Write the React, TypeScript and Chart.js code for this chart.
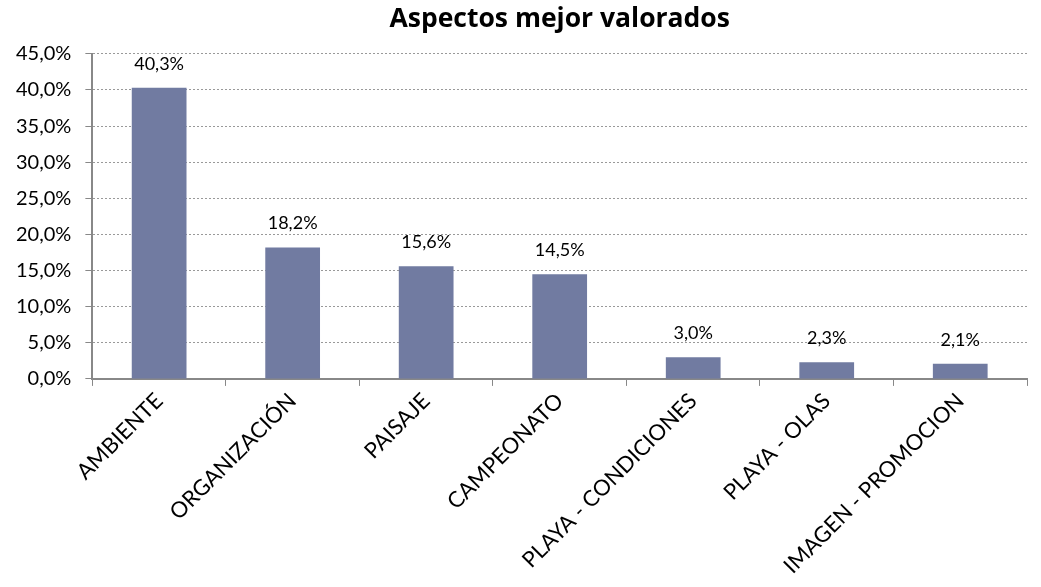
import React, { useEffect, useRef } from "react";
import { Chart, registerables } from "chart.js";

Chart.register(...registerables);

const categories = [
  "AMBIENTE",
  "ORGANIZACIÓN",
  "PAISAJE",
  "CAMPEONATO",
  "PLAYA - CONDICIONES",
  "PLAYA - OLAS",
  "IMAGEN - PROMOCION",
];
const values = [40.3, 18.2, 15.6, 14.5, 3.0, 2.3, 2.1];
const yMin = 0;
const yMax = 45;
const yStep = 5;
const title = "Aspectos mejor valorados";

const fmt = (v: number) => v.toFixed(1).replace(".", ",") + "%";

const dataLabels = {
  id: "dataLabels",
  afterDatasetsDraw(chart: any) {
    const ctx = chart.ctx;
    const meta = chart.getDatasetMeta(0);
    ctx.save();
    ctx.font = "18px Lato";
    ctx.fillStyle = "#000";
    ctx.textAlign = "center";
    ctx.textBaseline = "bottom";
    meta.data.forEach((bar: any, i: number) => {
      ctx.fillText(fmt(values[i]), bar.x, bar.y - 15);
    });
    ctx.restore();
  },
};

export default function App() {
  const ref = useRef<HTMLCanvasElement>(null);
  useEffect(() => {
    if (!ref.current) return;
    const chart = new Chart(ref.current, {
      type: "bar",
      data: {
        labels: categories,
        datasets: [
          {
            data: values,
            backgroundColor: "#717BA1",
            barPercentage: 0.41,
            categoryPercentage: 1,
          },
        ],
      },
      options: {
        animation: false,
        responsive: false,
        maintainAspectRatio: false,
        layout: { padding: { left: 2, right: 14, top: 0, bottom: 6 } },
        plugins: {
          legend: { display: false },
          tooltip: { enabled: false },
          title: {
            display: true,
            text: title,
            color: "#000",
            fullSize: false,
            font: { family: "Open Sans", size: 26.5, weight: "bold" },
            padding: { top: 4, bottom: 18 },
          },
        },
        scales: {
          x: {
            grid: {
              display: true,
              drawOnChartArea: false,
              offset: true,
              tickLength: 7,
              color: "#888",
            },
            border: { display: true, color: "#888", width: 2 },
            ticks: {
              color: "#000",
              font: { family: "Lato", size: 22 },
              minRotation: 45,
              maxRotation: 45,
              padding: 2,
              autoSkip: false,
            },
          },
          y: {
            min: yMin,
            max: yMax,
            grid: {
              color: "#999",
              tickColor: "#888",
              tickLength: 7,
              tickBorderDash: [],
              lineWidth: 1,
            },
            border: { display: true, color: "#888", width: 2, dash: [2, 2] },
            ticks: {
              stepSize: yStep,
              color: "#000",
              font: { family: "Lato", size: 20 },
              padding: 14,
              callback: (v: any) => fmt(Number(v)),
            },
          },
        },
      },
      plugins: [dataLabels],
    });
    return () => chart.destroy();
  }, []);
  return (
    <div
      style={{
        position: "fixed",
        left: 0,
        top: 0,
        width: 1041,
        height: 587,
        overflow: "hidden",
        background: "#fff",
      }}
    >
      <canvas ref={ref} width={1041} height={587} style={{ display: "block" }} />
    </div>
  );
}
